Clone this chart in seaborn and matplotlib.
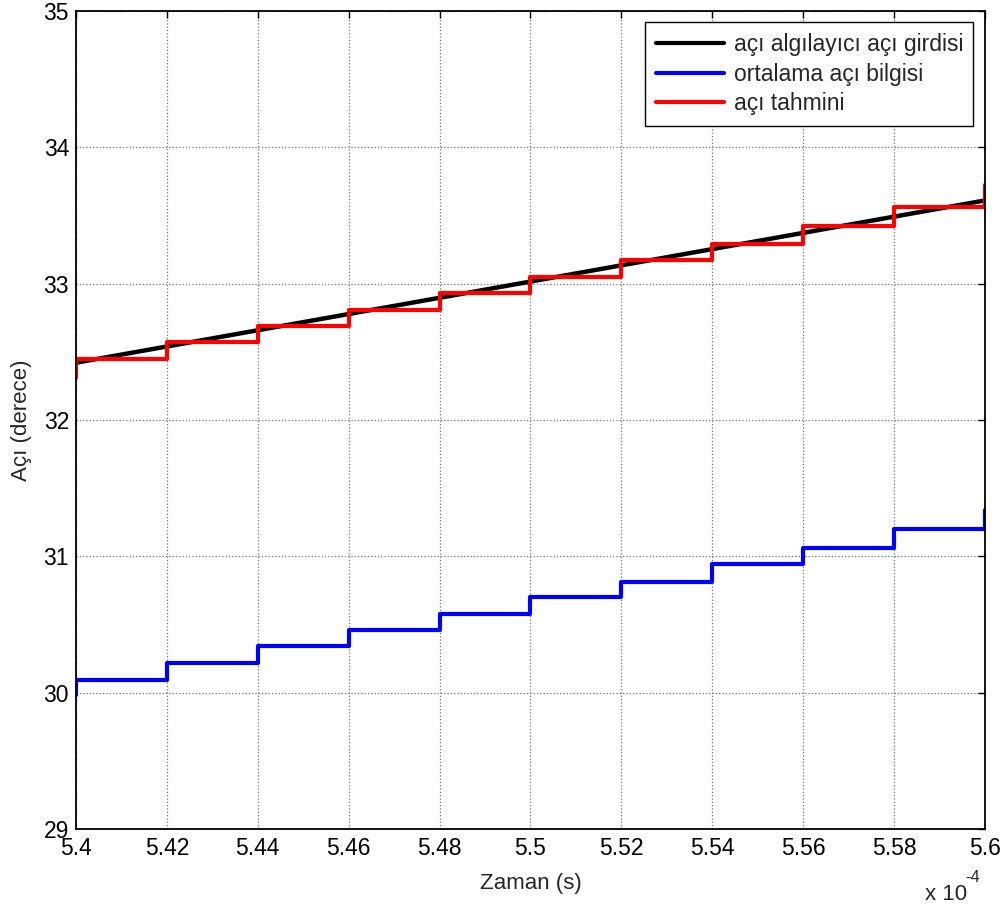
import numpy as np
import seaborn as sns
import matplotlib.pyplot as plt
from matplotlib.ticker import FuncFormatter, MultipleLocator

# sensor angle input (straight ramp)
sensor_t = [5.40e-4, 5.60e-4]
sensor_deg = [32.42, 33.61]

# step times shared by both sampled signals
step_t = [5.40e-4, 5.40e-4, 5.42e-4, 5.44e-4, 5.46e-4, 5.48e-4,
          5.50e-4, 5.52e-4, 5.54e-4, 5.56e-4, 5.58e-4, 5.60e-4]

# average angle info
mean_deg = [29.98, 30.09, 30.22, 30.34, 30.46, 30.58,
            30.70, 30.81, 30.94, 31.06, 31.20, 31.34]

# angle estimate
est_deg = [32.31, 32.45, 32.57, 32.69, 32.81, 32.93,
           33.05, 33.17, 33.29, 33.42, 33.56, 33.72]

labels = ['açı algılayıcı açı girdisi', 'ortalama açı bilgisi', 'açı tahmini']
xticks = [5.40e-4, 5.42e-4, 5.44e-4, 5.46e-4, 5.48e-4, 5.50e-4,
          5.52e-4, 5.54e-4, 5.56e-4, 5.58e-4, 5.60e-4]


sns.set_style("white")
plt.rcParams['font.family'] = ['Liberation Sans', 'DejaVu Sans']

fig = plt.figure(figsize=(10.08, 9.11), dpi=100)
ax = fig.add_axes([0.0754, 0.09, 0.9016, 0.898])

sns.lineplot(x=sensor_t, y=sensor_deg, color='black', linewidth=3.2,
             estimator=None, sort=False, ax=ax, label=labels[0])
sns.lineplot(x=step_t, y=mean_deg, color='#0000ff', linewidth=3,
             estimator=None, sort=False, drawstyle='steps-post', ax=ax, label=labels[1])
sns.lineplot(x=step_t, y=est_deg, color='#ff0000', linewidth=3,
             estimator=None, sort=False, drawstyle='steps-post', ax=ax, label=labels[2])

ax.set_xlim(5.40e-4, 5.60e-4)
ax.set_ylim(29, 35)
ax.set_xticks(xticks)
ax.yaxis.set_major_locator(MultipleLocator(1))
ax.xaxis.set_major_formatter(FuncFormatter(lambda v, p: '{:g}'.format(round(v * 1e4, 4))))

ax.grid(True, linestyle=':', color='#707070', linewidth=0.9)
ax.tick_params(direction='in', length=5, width=1, top=True, right=True,
               labelsize=16.5, colors='black')
ax.tick_params(axis='x', pad=6)
ax.tick_params(axis='y', pad=5)
for s in ax.spines.values():
    s.set_color('black')
    s.set_linewidth(1.3)

ax.set_xlabel('Zaman (s)', fontsize=16, labelpad=9)
ax.set_ylabel('Açı (derece)', fontsize=16, labelpad=8)

leg = ax.legend(loc='upper right', fontsize=16.5, fancybox=False, framealpha=1,
                edgecolor='black', handlelength=3.0, handletextpad=0.4,
                labelspacing=0.3, borderaxespad=0.5, borderpad=0.45)
leg.get_frame().set_linewidth(1.0)
for h in leg.get_lines():
    h.set_linewidth(3)

fig.text(0.918, 0.018, 'x 10', fontsize=16, va='center')
fig.text(0.958, 0.037, '-4', fontsize=12, va='center')

plt.savefig('out.png', dpi=100)
